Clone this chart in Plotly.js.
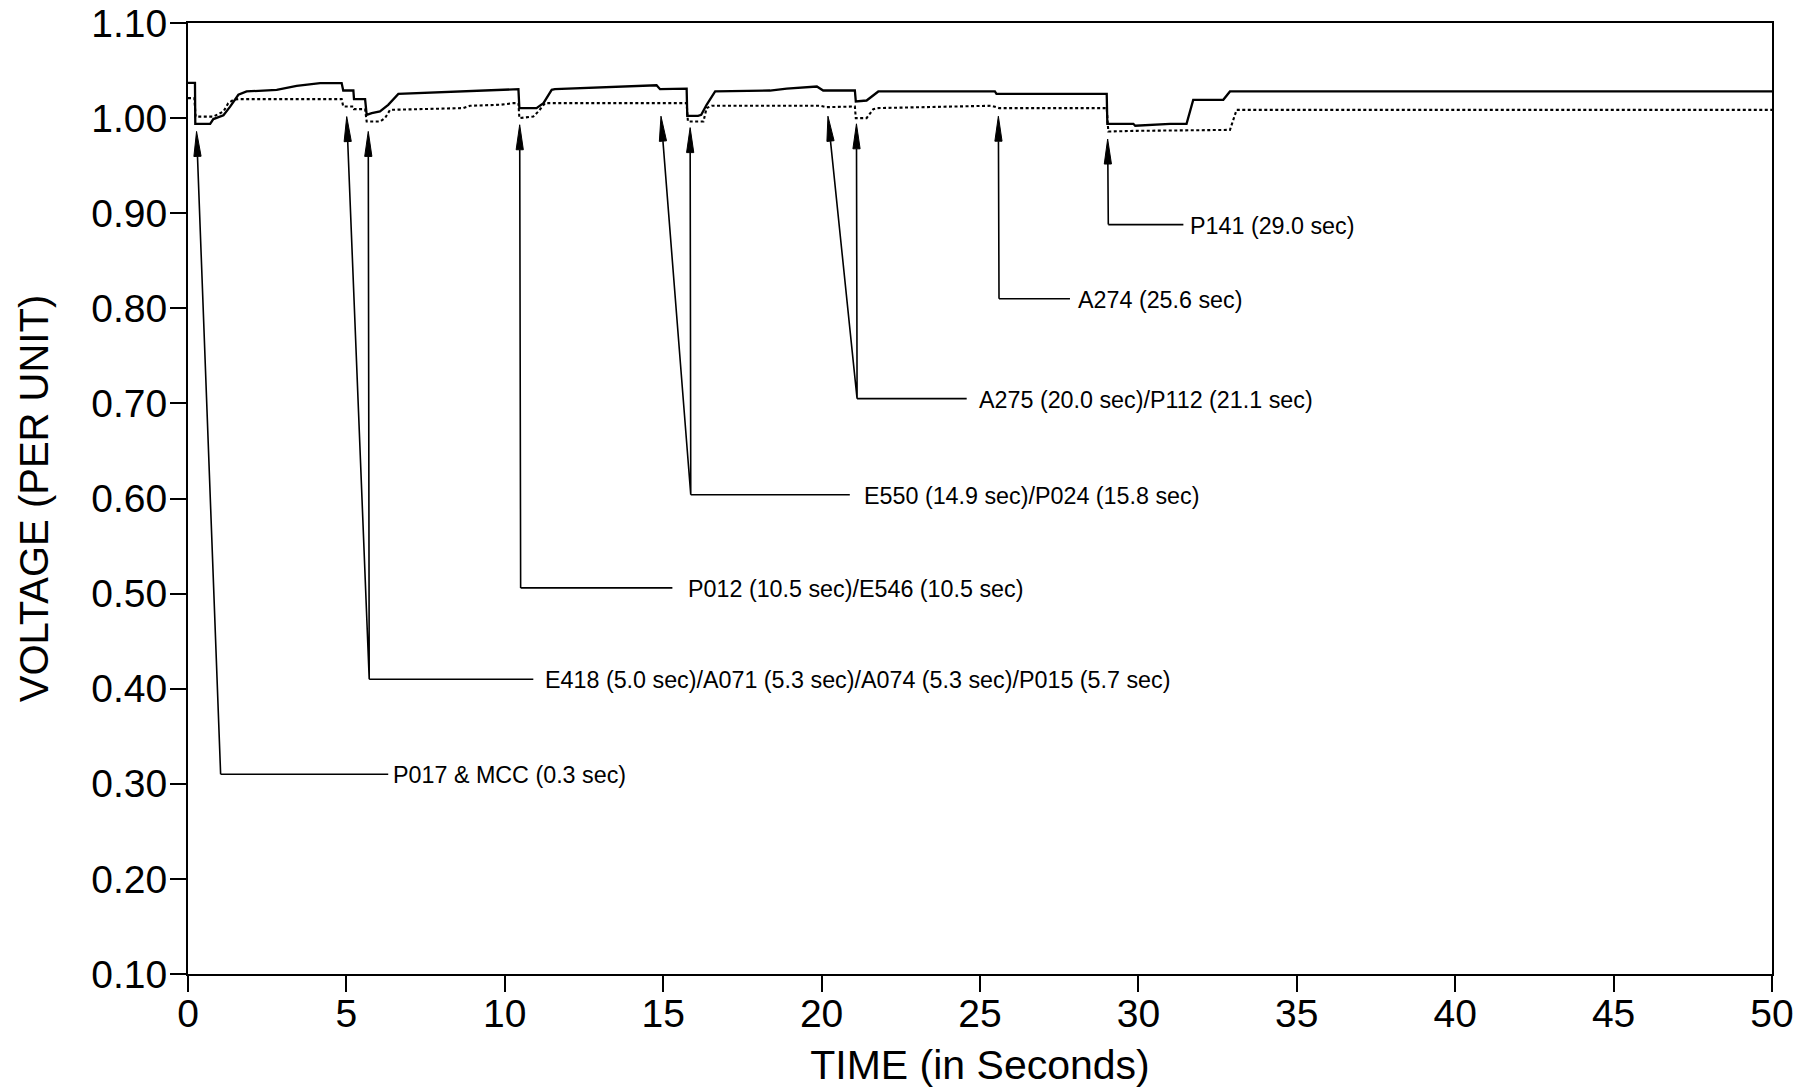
<!DOCTYPE html>
<html>
<head>
<meta charset="utf-8">
<script src="https://cdn.plot.ly/plotly-3.0.1.min.js"></script>
<style>
  html, body { margin: 0; padding: 0; background: #ffffff; }
  #chart { width: 1818px; height: 1090px; }
</style>
</head>
<body>
<div id="chart"></div>
<script>
// ---- Data ----
const solidT = [0, 0.22, 0.23, 0.70, 0.80, 1.12, 1.33, 1.59, 1.85, 2.80, 3.43, 4.17, 4.85, 4.90, 5.22, 5.24, 5.59, 5.64, 5.80, 6.06, 6.32, 6.64, 10.43, 10.46, 11.00, 11.22, 11.48, 11.58, 14.79, 14.90, 15.74, 15.76, 16.10, 16.20, 16.37, 16.53, 16.64, 18.37, 18.90, 19.85, 20.05, 21.05, 21.08, 21.42, 21.63, 21.79, 25.47, 25.52, 29.00, 29.02, 29.84, 29.90, 31.00, 31.52, 31.73, 32.68, 32.89, 50];
const solidV = [1.037, 1.037, 0.994, 0.994, 0.999, 1.003, 1.012, 1.0245, 1.028, 1.0297, 1.034, 1.0368, 1.0368, 1.029, 1.029, 1.020, 1.020, 1.0034, 1.0052, 1.007, 1.014, 1.0255, 1.0304, 1.0105, 1.0105, 1.0157, 1.0297, 1.0304, 1.0345, 1.0304, 1.031, 1.0024, 1.0024, 1.0034, 1.014, 1.0227, 1.028, 1.029, 1.031, 1.0332, 1.029, 1.029, 1.0175, 1.0185, 1.0234, 1.028, 1.028, 1.0255, 1.0255, 0.994, 0.994, 0.992, 0.994, 0.994, 1.0192, 1.0192, 1.028, 1.028];

const dottedT = [0, 0.20, 0.24, 0.80, 1.12, 1.27, 1.43, 1.59, 4.85, 4.90, 5.22, 5.24, 5.59, 5.64, 6.06, 6.22, 6.38, 8.69, 8.90, 9.85, 10.27, 10.43, 10.46, 10.90, 11.06, 11.27, 15.74, 15.78, 16.27, 16.37, 16.53, 19.95, 20.15, 21.05, 21.08, 21.42, 21.63, 21.75, 25.37, 25.60, 29.00, 29.05, 29.95, 32.89, 33.10, 50];
const dottedV = [1.021, 1.021, 1.0016, 1.0016, 1.007, 1.0157, 1.0192, 1.020, 1.020, 1.0122, 1.0122, 1.0094, 1.0094, 0.9964, 0.9964, 1.0, 1.0087, 1.0105, 1.013, 1.014, 1.0157, 1.0157, 1.0, 1.0016, 1.007, 1.0157, 1.0157, 0.9964, 0.9964, 1.0105, 1.013, 1.013, 1.0115, 1.0122, 1.0, 1.0, 1.0094, 1.0105, 1.013, 1.0105, 1.0105, 0.9859, 0.9866, 0.9876, 1.0087, 1.0087];

// Event labels and leader geometry (data units)
const eventLabels = [
  "P017 &amp; MCC (0.3 sec)",
  "E418 (5.0 sec)/A071 (5.3 sec)/A074 (5.3 sec)/P015 (5.7 sec)",
  "P012 (10.5 sec)/E546 (10.5 sec)",
  "E550 (14.9 sec)/P024 (15.8 sec)",
  "A275 (20.0 sec)/P112 (21.1 sec)",
  "A274 (25.6 sec)",
  "P141 (29.0 sec)"
];
const labelX  = [6.40, 11.22, 15.73, 21.27, 24.92, 28.02, 31.55];
const leaderEndX = [6.32, 10.90, 15.29, 20.89, 24.58, 27.84, 31.42];
const cornerX = [1.03, 5.72, 10.50, 15.87, 21.12, 25.60, 29.05];
const cornerY = [0.310, 0.410, 0.506, 0.604, 0.705, 0.810, 0.888];
const tipX = [[0.27], [5.01, 5.69], [10.47], [14.93, 15.85], [20.20, 21.10], [25.58], [29.03]];
const tipY = [[0.986], [1.0016, 0.986], [0.993], [1.002, 0.990], [1.002, 0.994], [1.002], [0.978]];

const xTicks = [0, 5, 10, 15, 20, 25, 30, 35, 40, 45, 50];
const yTicks = [0.10, 0.20, 0.30, 0.40, 0.50, 0.60, 0.70, 0.80, 0.90, 1.00, 1.10];

// ---- Layout / styling ----
const W = 1818, H = 1090;
const M = {l: 188, r: 46, t: 23, b: 116};
const xRange = [0, 50], yRange = [0.10, 1.10];
const sx = (W - M.l - M.r) / (xRange[1] - xRange[0]);
const sy = (H - M.t - M.b) / (yRange[1] - yRange[0]);
const HEAD_LEN = 25, HEAD_HW = 3.6;
const FONT = "Liberation Sans, Arial, Helvetica, sans-serif";

const shapes = [];
const annotations = [];

eventLabels.forEach((txt, i) => {
  const cx = cornerX[i], cy = cornerY[i];
  let leader = `M${leaderEndX[i]},${cy} L${cx},${cy}`;
  tipX[i].forEach((tx, j) => {
    const ty = tipY[i][j];
    const dxp = (tx - cx) * sx, dyp = (ty - cy) * sy;
    const L = Math.hypot(dxp, dyp);
    const ux = dxp / L, uy = dyp / L;
    const bx = tx - ux * HEAD_LEN / sx, by = ty - uy * HEAD_LEN / sy;
    const lx = bx + (-uy * HEAD_HW) / sx, ly = by + (ux * HEAD_HW) / sy;
    const rx = bx - (-uy * HEAD_HW) / sx, ry = by - (ux * HEAD_HW) / sy;
    leader += ` M${cx},${cy} L${bx},${by}`;
    shapes.push({
      type: 'path', xref: 'x', yref: 'y',
      path: `M${tx},${ty} L${lx},${ly} L${rx},${ry} Z`,
      fillcolor: '#000', line: {color: '#000', width: 1}
    });
  });
  shapes.push({
    type: 'path', xref: 'x', yref: 'y', path: leader,
    line: {color: '#000', width: 1.6}
  });
  annotations.push({
    x: labelX[i], y: cy, xref: 'x', yref: 'y',
    text: txt, showarrow: false, xanchor: 'left', yanchor: 'middle',
    font: {family: FONT, size: 23.3, color: '#000'}, yshift: -1
  });
});

const traces = [
  {
    x: solidT, y: solidV, type: 'scatter', mode: 'lines', name: 'solid',
    line: {color: '#000', width: 2.3}, hoverinfo: 'skip'
  },
  {
    x: dottedT, y: dottedV, type: 'scatter', mode: 'lines', name: 'dotted',
    line: {color: '#000', width: 2.1, dash: '3px,2.5px'}, hoverinfo: 'skip'
  }
];

const axisCommon = {
  showgrid: false, zeroline: false, showline: true, linecolor: '#000', linewidth: 2,
  mirror: true, ticks: 'outside', ticklen: 16, tickwidth: 2, tickcolor: '#000',
  tickfont: {family: FONT, size: 39, color: '#000'}
};

const layout = {
  width: W, height: H,
  margin: M,
  paper_bgcolor: '#fff', plot_bgcolor: '#fff',
  showlegend: false,
  xaxis: Object.assign({}, axisCommon, {
    range: xRange, tickmode: 'array', tickvals: xTicks, ticktext: xTicks.map(String),
    ticklabelstandoff: -12,
    title: {text: 'TIME (in Seconds)', font: {family: FONT, size: 41, color: '#000'}, standoff: 17}
  }),
  yaxis: Object.assign({}, axisCommon, {
    range: yRange, tickmode: 'array', tickvals: yTicks, ticktext: yTicks.map(v => v.toFixed(2)),
    ticklabelstandoff: -5,
    title: {text: 'VOLTAGE (PER UNIT)', font: {family: FONT, size: 40, color: '#000'}, standoff: 30}
  }),
  shapes: shapes,
  annotations: annotations
};

Plotly.newPlot('chart', traces, layout, {staticPlot: true, displayModeBar: false});
</script>
</body>
</html>
